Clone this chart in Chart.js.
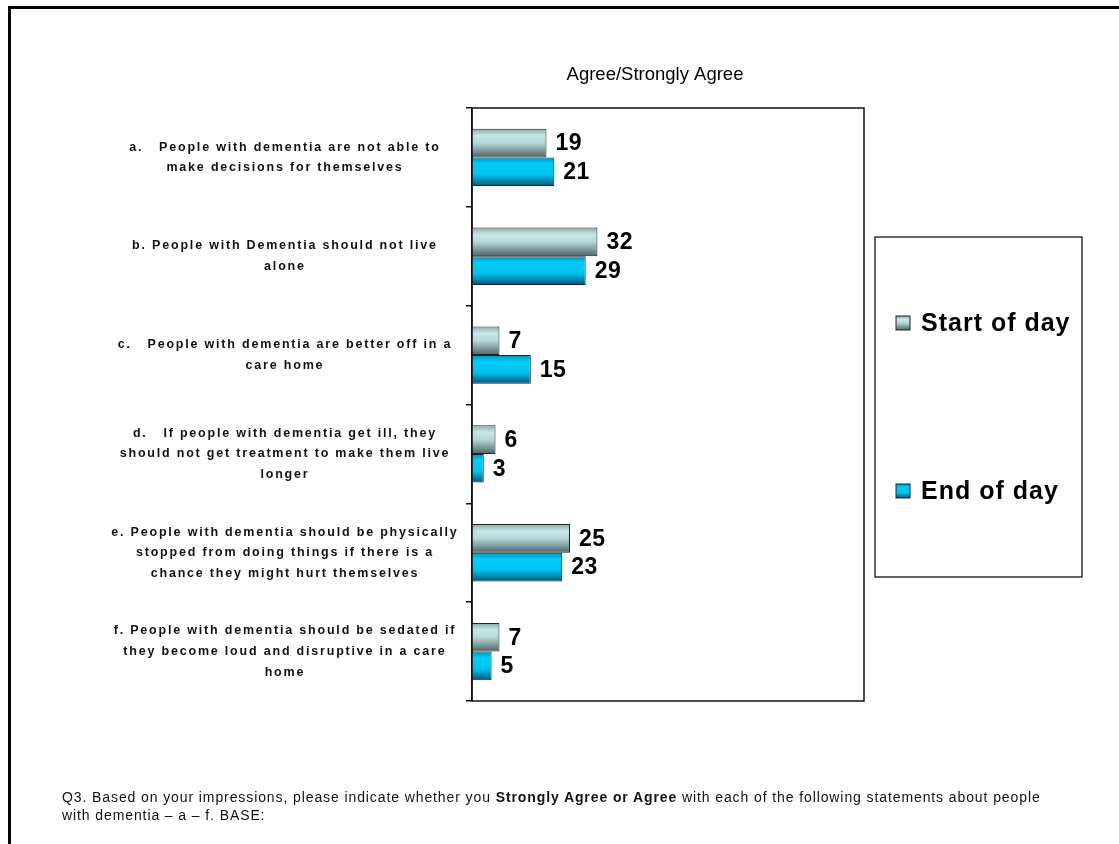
<!DOCTYPE html>
<html>
<head>
<meta charset="utf-8">
<title>Agree/Strongly Agree</title>
<script src="https://cdn.jsdelivr.net/npm/chart.js@4"></script>
<style>
    html, body { margin: 0; padding: 0; background: #fff; }
    #wrap { position: relative; width: 1119px; height: 844px; overflow: hidden; }
    #frame { position: absolute; left: 8px; top: 6px; right: -10px; bottom: -10px; border-top: 3px solid #000; border-left: 3px solid #000; }
    #myChart { position: absolute; left: 0; top: 0; }
    #note { position: absolute; left: 62px; top: 788px; font: 14px Arial, "Liberation Sans", sans-serif; line-height: 18px; color: #111; letter-spacing: 0.9px; white-space: nowrap; }
</style>
</head>
<body>
<div id="wrap">
    <div id="frame"></div>
    <canvas id="myChart" width="1119" height="844"></canvas>
    <div id="note">Q3. Based on your impressions, please indicate whether you <b>Strongly Agree or Agree</b> with each of the following statements about people<br>with dementia &ndash; a &ndash; f. BASE:</div>
</div>
<script>
const categories = [
    ['a.   People with dementia are not able to', 'make decisions for themselves'],
    ['b. People with Dementia should not live', 'alone'],
    ['c.   People with dementia are better off in a', 'care home'],
    ['d.   If people with dementia get ill, they', 'should not get treatment to make them live', 'longer'],
    ['e. People with dementia should be physically', 'stopped from doing things if there is a', 'chance they might hurt themselves'],
    ['f. People with dementia should be sedated if', 'they become loud and disruptive in a care', 'home']
];
const seriesNames = ['Start of day', 'End of day'];
const startOfDay = [19, 32, 7, 6, 25, 7];
const endOfDay = [21, 29, 15, 3, 23, 5];
const axisMax = 100;
const chartTitle = 'Agree/Strongly Agree';

const FONT = 'Arial, "Liberation Sans", sans-serif';
const CAT_PCT = 0.58;

// vertical colour ramps for the two series (grey-teal and cyan)
const fills = [
    [[0, '#8eaaab'], [0.25, '#c7e7e9'], [0.5, '#b5d7d9'], [1, '#4d6465']],
    [[0, '#0093bb'], [0.22, '#00cdf8'], [0.6, '#00c2ef'], [1, '#00577a']]
];

function ramp(ctx, top, height, stops) {
    const g = ctx.createLinearGradient(0, top, 0, top + height);
    stops.forEach(s => g.addColorStop(s[0], s[1]));
    return g;
}

// every bar gets its own gradient, so find its band on the y scale
function barFill(context) {
    const chart = context.chart;
    const y = chart.scales.y;
    const flat = fills[context.datasetIndex][1][1];
    if (!y || context.dataIndex === undefined) return flat;
    const band = (y.height / categories.length) * CAT_PCT / 2;
    const center = y.getPixelForValue(context.dataIndex);
    if (!isFinite(band) || !isFinite(center) || band <= 0) return flat;
    const top = center - band + context.datasetIndex * band;
    return ramp(chart.ctx, top, band, fills[context.datasetIndex]);
}

const extras = {
    id: 'extras',
    beforeDraw(chart) {
        // spaced-out lettering for the statement labels
        chart.ctx.letterSpacing = '1.8px';
    },
    beforeDatasetsDraw(chart) {
        chart.ctx.letterSpacing = '0px';
    },
    afterDatasetsDraw(chart) {
        const ctx = chart.ctx;
        ctx.save();
        ctx.letterSpacing = '0.5px';
        ctx.font = 'bold 23px ' + FONT;
        ctx.fillStyle = '#000';
        ctx.textAlign = 'left';
        ctx.textBaseline = 'middle';
        chart.data.datasets.forEach((ds, i) => {
            chart.getDatasetMeta(i).data.forEach((bar, j) => {
                ctx.fillText(String(ds.data[j]), bar.x + 9, bar.y + 1);
            });
        });
        ctx.restore();
    },
    afterDraw(chart) {
        const ctx = chart.ctx;
        const area = chart.chartArea;
        ctx.save();
        ctx.letterSpacing = '0px';

        // plot frame
        ctx.strokeStyle = '#111';
        ctx.lineWidth = 1.5;
        ctx.strokeRect(area.left, area.top, area.right - area.left, area.bottom - area.top);

        // title
        ctx.fillStyle = '#000';
        ctx.font = '18.5px ' + FONT;
        ctx.textAlign = 'center';
        ctx.textBaseline = 'middle';
        ctx.fillText(chartTitle, area.left + 183, 75);

        // legend box
        const lx = area.right + 11, ly = 237, lw = 207, lh = 340;
        ctx.lineWidth = 1.2;
        ctx.strokeStyle = '#000';
        ctx.strokeRect(lx, ly, lw, lh);
        const rows = [323, 491];
        ctx.font = 'bold 25px ' + FONT;
        ctx.letterSpacing = '1px';
        ctx.textAlign = 'left';
        chart.data.datasets.forEach((ds, i) => {
            const cy = rows[i];
            ctx.fillStyle = ramp(ctx, cy - 7, 14, fills[i]);
            ctx.fillRect(lx + 21, cy - 7, 14, 14);
            ctx.lineWidth = 1;
            ctx.strokeStyle = '#222';
            ctx.strokeRect(lx + 21, cy - 7, 14, 14);
            ctx.fillStyle = '#000';
            ctx.fillText(ds.label, lx + 46, cy + 1);
        });
        ctx.restore();
    }
};

const ctx = document.getElementById('myChart').getContext('2d');

const myChart = new Chart(ctx, {
    type: 'bar',
    data: {
        labels: categories,
        datasets: [{
            label: seriesNames[0],
            data: startOfDay,
            backgroundColor: barFill,
            borderColor: '#222',
            borderWidth: 1
        }, {
            label: seriesNames[1],
            data: endOfDay,
            backgroundColor: barFill,
            borderColor: '#222',
            borderWidth: 1
        }]
    },
    options: {
        indexAxis: 'y',
        responsive: false,
        animation: false,
        categoryPercentage: CAT_PCT,
        barPercentage: 1,
        layout: {
            padding: { left: 40, right: 255, top: 108, bottom: 143 }
        },
        scales: {
            x: {
                display: false,
                min: 0,
                max: axisMax
            },
            y: {
                afterFit(scale) { scale.width = 432; },
                border: { display: true, color: '#111', width: 1.5 },
                grid: {
                    drawOnChartArea: false,
                    drawTicks: true,
                    tickLength: 6,
                    color: '#111',
                    lineWidth: 1.5
                },
                ticks: {
                    crossAlign: 'center',
                    padding: 47,
                    color: '#111',
                    font: { family: FONT, size: 12.5, weight: 'bold', lineHeight: 1.65 }
                }
            }
        },
        plugins: {
            legend: { display: false },
            title: { display: false },
            tooltip: { enabled: false }
        }
    },
    plugins: [extras]
});
</script>
</body>
</html>
